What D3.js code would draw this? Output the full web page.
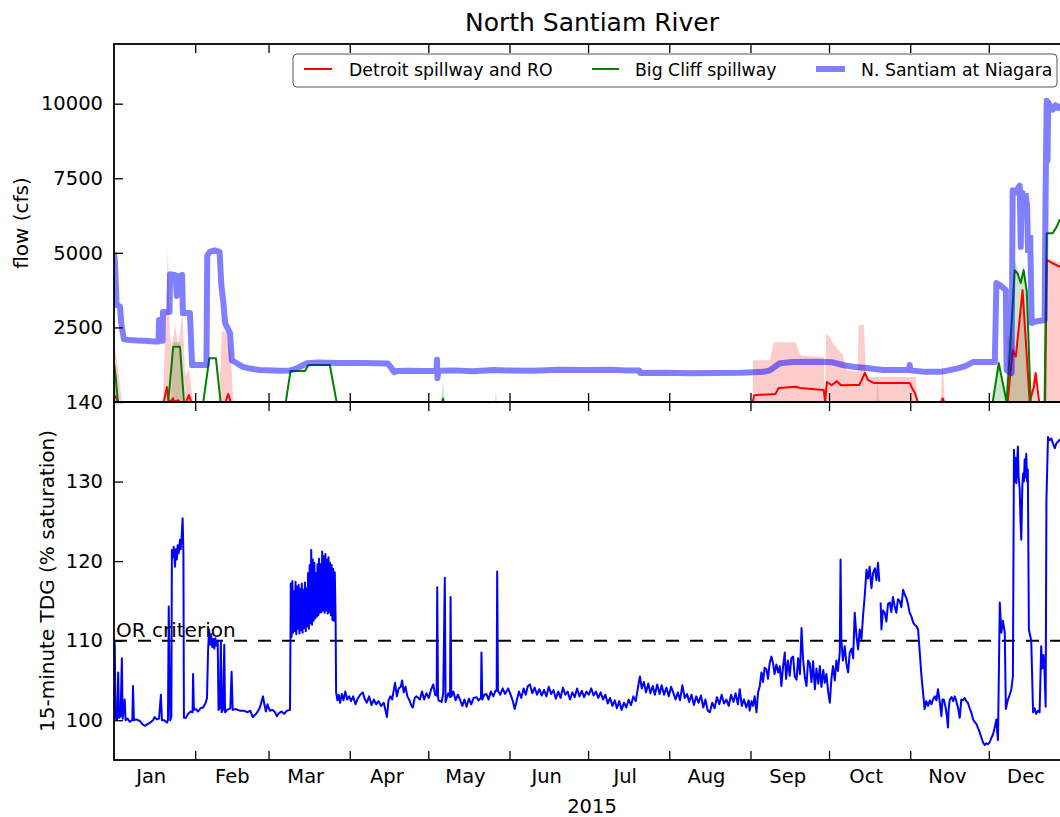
<!DOCTYPE html>
<html><head><meta charset="utf-8">
<script src="https://cdn.jsdelivr.net/npm/d3@7"></script>
<style>body{margin:0;background:#fff} svg{display:block} text{font-family:"DejaVu Sans",sans-serif;fill:#000}</style>
</head><body><svg id="c" width="1060" height="817"></svg>
<script>
// ---------- DATA (x = day of year 2015, fractional) ----------
const monthLabels = ["Jan","Feb","Mar","Apr","May","Jun","Jul","Aug","Sep","Oct","Nov","Dec"];
const flowTicks = [2500, 5000, 7500, 10000];
const tdgTicks = [100, 110, 120, 130, 140];
const criterionValue = 110;
const seriesNames = ["Detroit spillway and RO", "Big Cliff spillway", "N. Santiam at Niagara"];

const niagaraFlow = [[0,5000],[0.4,4600],[0.8,3700],[1.0,3250],[2.3,3200],[2.7,2700],[3.1,2450],[3.8,2100],[6,2080],[9,2060],[12,2050],[15,2030],[17.0,2030],[17.2,2750],[17.5,2050],[18.5,2050],[18.7,3020],[21.2,3020],[21.4,4280],[23.5,4250],[24.0,3550],[24.5,4200],[26.0,4260],[26.3,2980],[29.0,2980],[29.8,1240],[33,1240],[35.3,1240],[35.6,4900],[36.5,5030],[38.5,5080],[40.3,5030],[41.0,3900],[41.8,3300],[42.4,2650],[43.5,2450],[44.3,2300],[45.0,1400],[46.9,1300],[49.2,1180],[52,1120],[55.7,1070],[60,1060],[64,1050],[67.2,1060],[69,1100],[71,1180],[73.7,1300],[78,1320],[85,1310],[95,1310],[100,1300],[104.5,1290],[105.8,1150],[107,1000],[108,1040],[112,1050],[118,1040],[123.1,1050],[123.3,1420],[123.5,800],[123.8,1050],[130,1060],[137,1030],[145,1070],[150,1060],[160,1050],[170,1080],[180,1070],[190,1080],[195,1060],[200.5,1060],[201,970],[210,980],[220,960],[230,975],[240,980],[244,1000],[248,1010],[250.4,1060],[254.2,1300],[259,1340],[268,1350],[274.4,1330],[278.2,1240],[283,1170],[287.4,1140],[293.5,1070],[300,1070],[303.6,1070],[303.8,1240],[304.1,1060],[310,1010],[315.3,1010],[318,1050],[321.8,1120],[325,1200],[327.9,1340],[336.3,1340],[336.9,3990],[338.5,3900],[340.5,3750],[340.8,1070],[342.7,970],[343.1,7100],[343.6,6900],[343.9,null],[344.3,7000],[345.0,7150],[345.8,7250],[346.2,5200],[346.5,7000],[347.2,7100],[347.6,null],[348.0,7000],[348.6,6600],[349.0,5000],[349.3,null],[349.8,5600],[350.2,3500],[350.4,2650],[352,2700],[355.3,2750],[355.7,7100],[356.1,10100],[356.4,8100],[356.7,10050],[357.5,9900],[358.4,9800],[359.5,9950],[360.5,9850],[362,9950],[365,9900]];

const detroitFlow = [[0,230],[0.8,150],[1.5,0],[19,0],[20.2,500],[20.8,80],[21.5,0],[22.5,120],[23,0],[24.5,60],[25.2,0],[27.5,0],[28.6,230],[29.5,0],[42.6,0],[43.6,270],[44.6,0],[243.9,0],[244.4,230],[252.5,270],[253.8,470],[260.3,510],[262,470],[271.0,400],[271.5,0],[272.2,670],[274,560],[276,700],[277.5,560],[282,570],[284.5,570],[285.3,700],[286.7,980],[287.8,740],[290,640],[303.8,640],[304.8,450],[305.8,300],[306.9,0],[315.8,0],[316.4,120],[317,0],[341.2,0],[343.1,1740],[344.3,1520],[346.9,3750],[349.6,0],[351.2,500],[351.9,970],[353.2,0],[355.5,0],[356.1,4760],[358.4,4650],[361,4540],[365,4500]];

const detroitRange = [[0,2000],[1.3,1300],[3,0],[18.7,0],[19.5,2250],[20.6,5160],[21.3,2250],[22.1,1850],[23.3,2580],[24.5,1900],[25.6,2580],[26.1,3000],[27.2,900],[28.6,1100],[30.2,0],[40.1,0],[41.2,2400],[43,2300],[44.7,1500],[45.5,0],[243.9,0],[244.0,1400],[250.4,1400],[251.9,2000],[260.3,2000],[261.5,1680],[262.5,1550],[271.0,1510],[271.4,0],[271.9,2300],[273,2200],[275,1900],[278.2,1580],[279.8,1070],[283.9,1000],[284.3,2580],[286.3,2580],[287.2,840],[306.1,840],[306.9,0],[315.6,0],[316.4,1400],[317.2,0],[340.5,0],[341.2,2200],[343.1,2200],[344.3,1600],[345.5,2600],[346.9,3800],[348,2000],[349.6,0],[351.2,1100],[352.5,0],[355.5,0],[356.1,4800],[365,4600]];

const bigCliffFlow = [[0,1300],[0.6,900],[1.5,0],[20.7,0],[22.6,1850],[25.2,1850],[26.7,0],[34.1,0],[36.4,1470],[38.9,1470],[40.7,0],[65.6,0],[67.4,1040],[72.9,1040],[74.2,1240],[82.4,1240],[85,0],[125.3,0],[125.6,120],[125.9,0],[335.5,0],[337.8,1300],[340.8,0],[342.7,2650],[343.9,4420],[345,4300],[346.2,3990],[347.3,4420],[348.5,3700],[350,0],[355.3,0],[356.1,5660],[358.4,5660],[359.9,5870],[361,6100],[363,6000],[365,6000]];

const bigCliffRange = [[0,1500],[0.6,1100],[1.5,0],[21.8,0],[22.3,2010],[25.4,2010],[25.9,0],[124.9,0],[125.6,740],[126.3,0],[145.4,0],[145.8,370],[146.2,0],[291.2,0],[291.6,900],[292,0],[335.3,0],[337.8,1500],[341,0],[342.5,2800],[343.9,4700],[345,4500],[346.2,4100],[347.3,4600],[348.5,3900],[350,0]];

const tdgPercent = [[0,110.2],[0.3,109.5],[0.6,100.2],[1.2,100],[1.6,106],[1.9,100.3],[2.5,100.5],[3.0,107.8],[3.3,100.2],[3.7,101.5],[4.1,102.6],[4.4,100],[5.2,100.2],[6.0,99.8],[7.0,100],[7.25,104.3],[7.6,100],[8.5,100.1],[9.9,99.9],[10.8,99.5],[11.8,99.3],[12.8,99.5],[13.8,99.7],[14.9,100],[15.5,100.4],[16.3,100.1],[17.2,100.2],[17.9,103.2],[18.3,100],[19.2,100],[20.2,99.7],[20.6,100],[20.9,114.3],[21.2,106],[21.5,100],[21.9,100.5],[22.1,121.4],[22.4,120.5],[22.8,121.8],[23.3,119.3],[23.6,121.5],[24.0,120.2],[24.3,122],[24.7,121],[25.2,122.7],[25.5,121.5],[25.9,123.5],[26.2,125.4],[26.5,121],[26.7,100.3],[27.5,100.3],[28.3,100.8],[29.3,101.1],[30.0,101],[30.2,105.8],[30.5,101.3],[31.3,101.4],[32.1,101.1],[33,101.5],[34,101.6],[35,102.2],[35.5,102.8],[35.9,108.6],[36.3,111.4],[36.7,109.5],[37.1,110.8],[37.5,109.2],[37.9,110.2],[38.3,109],[38.7,110.3],[39.1,109.4],[39.6,110],[39.9,101.3],[40.4,101.5],[40.8,110],[41.1,101],[41.6,101.3],[42.1,109.5],[42.4,101],[43.2,101.3],[44.4,101.5],[44.9,106.1],[45.3,101.3],[46.5,101.4],[48,101.2],[49.5,101.2],[51,101],[52,101.2],[53,100.4],[54.5,100.9],[55.7,101.6],[56.9,103],[57.4,102],[58,101.1],[58.6,102],[59.5,101.2],[60.5,101.3],[61.5,101],[62.2,100.5],[63,100.9],[64,101.1],[65,100.8],[66,101.2],[67.2,101.3],
[67.5,117.2],[67.8,110.5],[68.1,117.5],[68.4,111],[68.7,116.2],[69.0,111.2],[69.3,117.4],[69.6,110.8],[69.9,116.8],[70.2,111.5],[70.5,117],[70.8,110.9],[71.1,116.5],[71.4,111.3],[71.7,117.2],[72.0,111],[72.3,116.4],[72.6,111.6],[72.9,117.3],[73.2,111.2],[73.5,116.6],[73.8,111.8],[74.1,118.5],[74.4,111.5],[74.7,119.5],[75.0,112.2],[75.3,121.4],[75.6,112],[75.9,120.2],[76.2,112.5],[76.5,119.8],[76.8,112.8],[77.1,118.5],[77.4,113],[77.7,119.6],[78.0,113.2],[78.3,120.3],[78.6,113.5],[78.9,119.6],[79.2,113.6],[79.5,121.2],[79.8,113.8],[80.1,120.6],[80.4,113.5],[80.7,120.9],[81.0,113.8],[81.3,120.2],[81.6,113.4],[81.9,120.5],[82.2,113.6],[82.5,119.8],[82.8,113.2],[83.1,119.5],[83.4,112.6],[83.7,119],[84.0,112.5],[84.3,118.6],[84.6,113],
[84.8,103.5],[85.3,102.5],[85.8,103.2],[86.3,102.2],[87,103.3],[87.6,102.5],[88.3,103.6],[89,102.6],[89.8,103],[90.5,102.4],[91.3,103],[92.2,102],[93,102.7],[94,103.2],[95,103.5],[95.7,102.7],[96.5,102.2],[97.4,103],[98.3,101.9],[99.2,102.6],[100.1,102],[101,102.4],[102,101.8],[103,102.2],[104.2,100.4],[104.8,102.5],[105.5,103],[106.2,102.6],[107.3,104.7],[108,103],[108.7,104],[109.5,104.2],[110,105],[110.6,103.5],[111.3,104.2],[112,103],[112.8,102.5],[113.6,101.8],[114.1,101.6],[114.8,102.8],
[115.5,103],[116.8,102.6],[117.6,103.6],[118.4,102.6],[119.3,103.4],[120.2,102.8],[121,103.8],[121.9,104.5],[122.6,103.2],[123.2,103.1],[123.4,116.7],[123.7,103],[123.9,102.5],[125.1,102.3],[125.7,103.4],[126.3,117.9],[126.6,102.3],[127.6,103.4],[128.3,102.9],[128.5,115.5],[128.8,103],[129.6,103.6],[130.4,102.5],[131.3,103.2],[132.1,102.6],[133,101.8],[133.8,102.6],[134.6,101.7],[135.5,102.7],[136.4,102],[137.3,102.8],[138.4,102.9],[139.2,102.5],[140.1,102.8],[140.3,108.5],[140.6,102.6],[141.4,103.2],[142.2,103.3],[143,102.6],[143.9,103.6],[144.8,103],[145.6,103.7],[146.1,103.7],[146.3,118.7],[146.6,103.7],[147.5,103.2],[148.4,104],[149.3,103.3],[150.5,104],[151.3,103.3],[152.2,102.5],[153,101.4],[153.8,102.5],[154.6,103.6],[155.5,102.8],[156.4,104],[157.2,103.2],[158,104.3],[158.8,104.5],[159.7,103.4],[160.6,104.1],[161.5,103.2],[162.4,103.9],[163.3,103.1],[164.2,103.8],[165.1,103],[166,104.2],[166.9,103.3],[167.8,103.8],[168.7,102.7],[169.6,103.6],[170.5,102.8],[171.4,104.1],[172.3,103.2],[173.2,103.6],[174.1,102.6],[175,103.5],[175.9,102.9],[176.8,104],[177.7,103],[178.6,103.7],[179.5,102.9],[180.4,103.6],[181.3,103.2],[182.2,104],[183.1,103.1],[184,103.6],[184.9,102.8],[185.8,103.5],[186.7,102.6],[187.6,103.2],[188.5,102.1],[189.4,102.8],[190.3,101.8],[191.2,102.5],[192,101.5],[192.9,102.4],[193.8,101.3],[194.7,102.2],[195.6,101.6],[196.5,102.6],[197.4,101.9],[198.3,103],[199.2,102.4],[200.1,104.2],[200.8,105.5],[201.5,104],[202.3,104.8],[203.1,103.5],[204,104.6],[204.8,103.4],[205.7,104.3],[206.5,103.2],[207.4,104.5],[208.3,103.3],[209.1,104.4],[210,103.2],[210.9,104.1],[211.8,103],[212.7,104.2],[213.5,103.5],[214.4,102.6],[215.3,103.5],[216.1,102.5],[217,104.4],[217.9,102.8],[218.8,103.3],[219.6,102.3],[220.5,103.2],[221.4,101.9],[222.3,103],[223.2,102.2],[224.1,103.1],[225,101.6],[225.8,102.6],[226.7,101.2],[227.5,101],[228.4,102.2],[229.3,101.5],[230.2,102.9],[231.1,102],[232,103.2],[232.9,102.1],[233.8,102.6],[234.7,101.8],[235.6,103.2],[236.5,102.3],[237.3,103.4],[238.2,102],[238.9,103.9],[239.7,101.8],[240.5,102.6],[241.4,101.6],[242.3,102.5],[242.7,101.2],[243.4,102.4],[244,101.8],
[244.6,103],[245.3,101],[245.9,103.5],[246.5,104.2],[247.2,106],[247.8,104.8],[248.4,106.6],[249.1,106.4],[249.7,105.2],[250.3,107.1],[251,108],[251.6,107.2],[252.2,105.8],[252.9,107],[253.6,106],[254.2,106.8],[254.8,104.3],[255.4,106.6],[256.1,108.5],[256.6,105.2],[257.3,107.5],[258,105.6],[258.6,107.8],[259.3,108],[259.9,105.5],[260.6,105.1],[261.2,107.8],[261.9,105.8],[262.5,111.6],[263.1,107.6],[263.8,105.3],[264.4,104.3],[265,107.5],[265.6,107.2],[266.3,104.8],[266.9,107.4],[267.6,103.9],[268.2,106.5],[268.9,104.6],[269.5,106.8],[270.1,104.2],[270.8,106.3],[271.4,104.7],[272,105.8],[272.7,103.5],[273.3,102.2],[273.9,105.2],[274.5,106.8],[275.2,105],[275.8,107.5],[276.4,106.2],[277.1,108.5],[277.4,120.2],[277.7,110.1],[278.3,107.5],[279,109.3],[279.6,107.2],[280.3,106],[280.9,108.5],[281.6,109],[282.2,107.8],[282.8,113.5],[283.5,110.5],[284.1,108.9],[284.7,111.4],[285.4,110.2],[286,113.2],[286.6,115.5],[287.3,118.9],[287.9,117.8],[288.5,119.3],[289.2,116.6],[289.8,118.5],[290.5,119.1],[291.1,117.6],[291.7,119.8],[292.2,117.4],[292.5,null],[292.7,114.8],[293,111.4],[293.6,113.8],[294.3,113.5],[294.9,112.4],[295.5,114.6],[296.2,114.8],[296.8,113.6],[297.4,115.5],[298,114.4],[298.7,113.5],[299.3,115.2],[300,115],[300.6,114.2],[301.3,116.4],[301.9,115.8],[302.6,115.3],[303.2,114.5],[303.8,113.5],[304.5,113],[305.1,112.3],[305.7,112],[306.4,111.8],[307,111.4],[308.3,105.5],[309.5,101.4],[310.1,102.4],[310.8,101.8],[311.5,102.5],[312.1,102],[312.7,102.6],[313.4,103],[314,102.5],[314.6,103.9],[315.2,102.5],[315.9,100.5],[316.3,102.6],[316.8,102.6],[317.4,101.8],[318,100.5],[318.4,99.1],[318.7,101.5],[319.1,102.6],[319.8,102.9],[320.4,102.4],[321,103],[321.6,102.4],[322.3,101.5],[322.9,100.3],[323.5,102.6],[324.1,102.5],[324.8,102.8],[325.4,102.4],[326,102.2],[326.7,101.5],[327.3,101],[328,100.1],[328.6,99.8],[329.3,99.5],[329.9,99],[330.5,98.5],[331.2,97.8],[331.8,97.2],[332.4,96.9],[333.1,97.1],[333.7,97],[334.3,97.2],[335,97.8],[335.6,98.2],[336.2,99],[336.9,100.1],[337.2,98.5],[337.5,97.5],[338.2,114.8],[338.8,111],[339.4,112.5],[340.1,111],[340.5,101.4],[341.3,102.6],[342,103.2],[342.6,103.9],[343.2,105.5],[343.6,134],[343.9,130],[344.2,133],[344.5,129.8],[344.8,132.2],[345.1,134.4],[345.4,130.5],[345.8,129],[346.1,125],[346.4,122.7],[346.8,129.5],[347.1,131],[347.4,130],[347.7,132.8],[348,130.5],[348.3,133.5],[348.6,130],[348.9,131.5],[349.3,111.4],[350.2,110],[350.9,101],[351.5,101.5],[352.1,100.8],[352.8,101.2],[353.4,101],[354,109.3],[354.4,106.5],[354.9,108.2],[355.3,106],[355.7,101.7],[356,127.7],[356.6,135.6],[357.2,135.2],[357.9,135.4],[358.5,134.8],[359.2,134.2],[359.8,134.8],[360.4,135],[361.2,135.3],[362.5,135.2],[364.5,134.8]];

// ---------- LAYOUT ----------
const L = 114, R = 1070, T1 = 44, B1 = 402, T2 = 402, B2 = 760;
const FONT = "DejaVu Sans";
const t0 = Date.UTC(2015, 0, 1);
const toDate = d => new Date(t0 + d * 864e5);

const svg = d3.select("#c");
const x = d3.scaleUtc().domain([new Date(t0), new Date(Date.UTC(2016, 0, 1))]).range([L, R]);
const yF = d3.scaleLinear().domain([0, 12000]).range([B1, T1]).clamp(true);
const yT = d3.scaleLinear().domain([95, 140]).range([B2, T2]);

const defs = svg.append("defs");
defs.append("clipPath").attr("id", "clipTop").append("rect").attr("x", L).attr("y", T1).attr("width", R - L).attr("height", B1 - T1);
defs.append("clipPath").attr("id", "clipBot").append("rect").attr("x", L).attr("y", T2).attr("width", R - L).attr("height", B2 - T2);

// ---------- TOP PANEL ----------
const gTop = svg.append("g").attr("clip-path", "url(#clipTop)");
const areaF = d3.area().x(d => x(toDate(d[0]))).y0(yF(0)).y1(d => yF(d[1]));
const lineF = d3.line().defined(d => d[1] != null).x(d => x(toDate(d[0]))).y(d => yF(d[1]));

gTop.append("path").datum(detroitRange).attr("d", areaF).attr("fill", "#ff0000").attr("fill-opacity", 0.2);
gTop.append("path").datum(bigCliffRange).attr("d", areaF).attr("fill", "#008000").attr("fill-opacity", 0.2);
gTop.append("path").datum(detroitFlow).attr("d", lineF).attr("fill", "none").attr("stroke", "#ff0000").attr("stroke-width", 2).attr("stroke-linejoin", "round");
gTop.append("path").datum(bigCliffFlow).attr("d", lineF).attr("fill", "none").attr("stroke", "#008000").attr("stroke-width", 2).attr("stroke-linejoin", "round");
gTop.append("path").datum(niagaraFlow).attr("d", lineF).attr("fill", "none").attr("stroke", "#0000ff").attr("stroke-opacity", 0.5).attr("stroke-width", 6).attr("stroke-linejoin", "round");

// ---------- BOTTOM PANEL ----------
const gBot = svg.append("g").attr("clip-path", "url(#clipBot)");
const lineT = d3.line().defined(d => d[1] != null).x(d => x(toDate(d[0]))).y(d => yT(d[1]));
gBot.append("line").attr("x1", L).attr("x2", R).attr("y1", yT(criterionValue)).attr("y2", yT(criterionValue))
  .attr("stroke", "#000").attr("stroke-width", 2).attr("stroke-dasharray", "13,11");
gBot.append("path").datum(tdgPercent).attr("d", lineT).attr("fill", "none").attr("stroke", "#0000ff").attr("stroke-width", 2).attr("stroke-linejoin", "round");
svg.append("text").attr("x", 116).attr("y", 637).attr("font-size", 20).text("OR criterion");

// ---------- AXES ----------
const majors = d3.utcMonth.range(new Date(Date.UTC(2015, 1, 1)), new Date(Date.UTC(2016, 0, 1)));
const mids = d3.utcMonth.range(new Date(t0), new Date(Date.UTC(2016, 0, 1))).map(d => d3.utcDay.offset(d, 14));
const TK = 9;
function styleAxis(g, size) {
  g.select(".domain").remove();
  g.attr("font-family", FONT).attr("font-size", size);
  g.selectAll("line").attr("stroke", "#000").attr("stroke-width", 1.3);
  g.selectAll("text").attr("fill", "#000");
}
[[d3.axisTop, T1], [d3.axisBottom, B1], [d3.axisTop, T2], [d3.axisBottom, B2]].forEach(([ax, yy]) => {
  svg.append("g").attr("transform", `translate(0,${yy})`)
    .call(ax(x).tickValues(majors).tickSizeInner(-TK).tickSizeOuter(0).tickFormat(""))
    .call(g => styleAxis(g, 19.5));
});
svg.append("g").attr("transform", `translate(0,${B2})`)
  .call(d3.axisBottom(x).tickValues(mids).tickSize(0).tickPadding(9.5).tickFormat((d, i) => monthLabels[i]))
  .call(g => styleAxis(g, 19.5));

svg.append("g").attr("transform", `translate(${L},0)`)
  .call(d3.axisLeft(yF).tickValues(flowTicks).tickSizeInner(-TK).tickSizeOuter(0).tickPadding(11).tickFormat(d3.format("d")))
  .call(g => styleAxis(g, 19.5));
svg.append("g").attr("transform", `translate(${L},0)`)
  .call(d3.axisLeft(yT).tickValues(tdgTicks).tickSizeInner(-TK).tickSizeOuter(0).tickPadding(11).tickFormat(d3.format("d")))
  .call(g => styleAxis(g, 19.5));
svg.append("g").attr("transform", `translate(${R},0)`)
  .call(d3.axisRight(yF).tickValues(flowTicks).tickSizeInner(-TK).tickSizeOuter(0).tickFormat(""))
  .call(g => styleAxis(g, 19.5));
svg.append("g").attr("transform", `translate(${R},0)`)
  .call(d3.axisRight(yT).tickValues(tdgTicks).tickSizeInner(-TK).tickSizeOuter(0).tickFormat(""))
  .call(g => styleAxis(g, 19.5));

// spines
svg.append("rect").attr("x", L).attr("y", T1).attr("width", R - L).attr("height", B1 - T1).attr("fill", "none").attr("stroke", "#000").attr("stroke-width", 1.8);
svg.append("rect").attr("x", L).attr("y", T2).attr("width", R - L).attr("height", B2 - T2).attr("fill", "none").attr("stroke", "#000").attr("stroke-width", 1.8);

// ---------- TEXT ----------
svg.append("text").attr("x", (L + R) / 2).attr("y", 31).attr("text-anchor", "middle").attr("font-size", 25).text("North Santiam River");
svg.append("text").attr("x", (L + R) / 2).attr("y", 813).attr("text-anchor", "middle").attr("font-size", 19.5).text("2015");
svg.append("text").attr("transform", `translate(27.5,${(T1 + B1) / 2}) rotate(-90)`).attr("text-anchor", "middle").attr("font-size", 20).text("flow (cfs)");
svg.append("text").attr("transform", `translate(54,${(T2 + B2) / 2}) rotate(-90)`).attr("text-anchor", "middle").attr("font-size", 20).text("15-minute TDG (% saturation)");

// ---------- LEGEND ----------
const lg = svg.append("g");
lg.append("rect").attr("x", 293).attr("y", 54).attr("width", 764).attr("height", 33).attr("rx", 4)
  .attr("fill", "#fff").attr("stroke", "#555").attr("stroke-width", 1);
const legendItems = [
  {name: seriesNames[0], color: "#ff0000", w: 2, op: 1, x0: 304, x1: 332, tx: 349},
  {name: seriesNames[1], color: "#008000", w: 2, op: 1, x0: 592, x1: 619, tx: 635},
  {name: seriesNames[2], color: "#0000ff", w: 6, op: 0.5, x0: 816, x1: 845, tx: 861}
];
legendItems.forEach(it => {
  lg.append("line").attr("x1", it.x0).attr("x2", it.x1).attr("y1", 69).attr("y2", 69)
    .attr("stroke", it.color).attr("stroke-width", it.w).attr("stroke-opacity", it.op);
  lg.append("text").attr("x", it.tx).attr("y", 75.5).attr("font-size", 17.3).text(it.name);
});
</script></body></html>
